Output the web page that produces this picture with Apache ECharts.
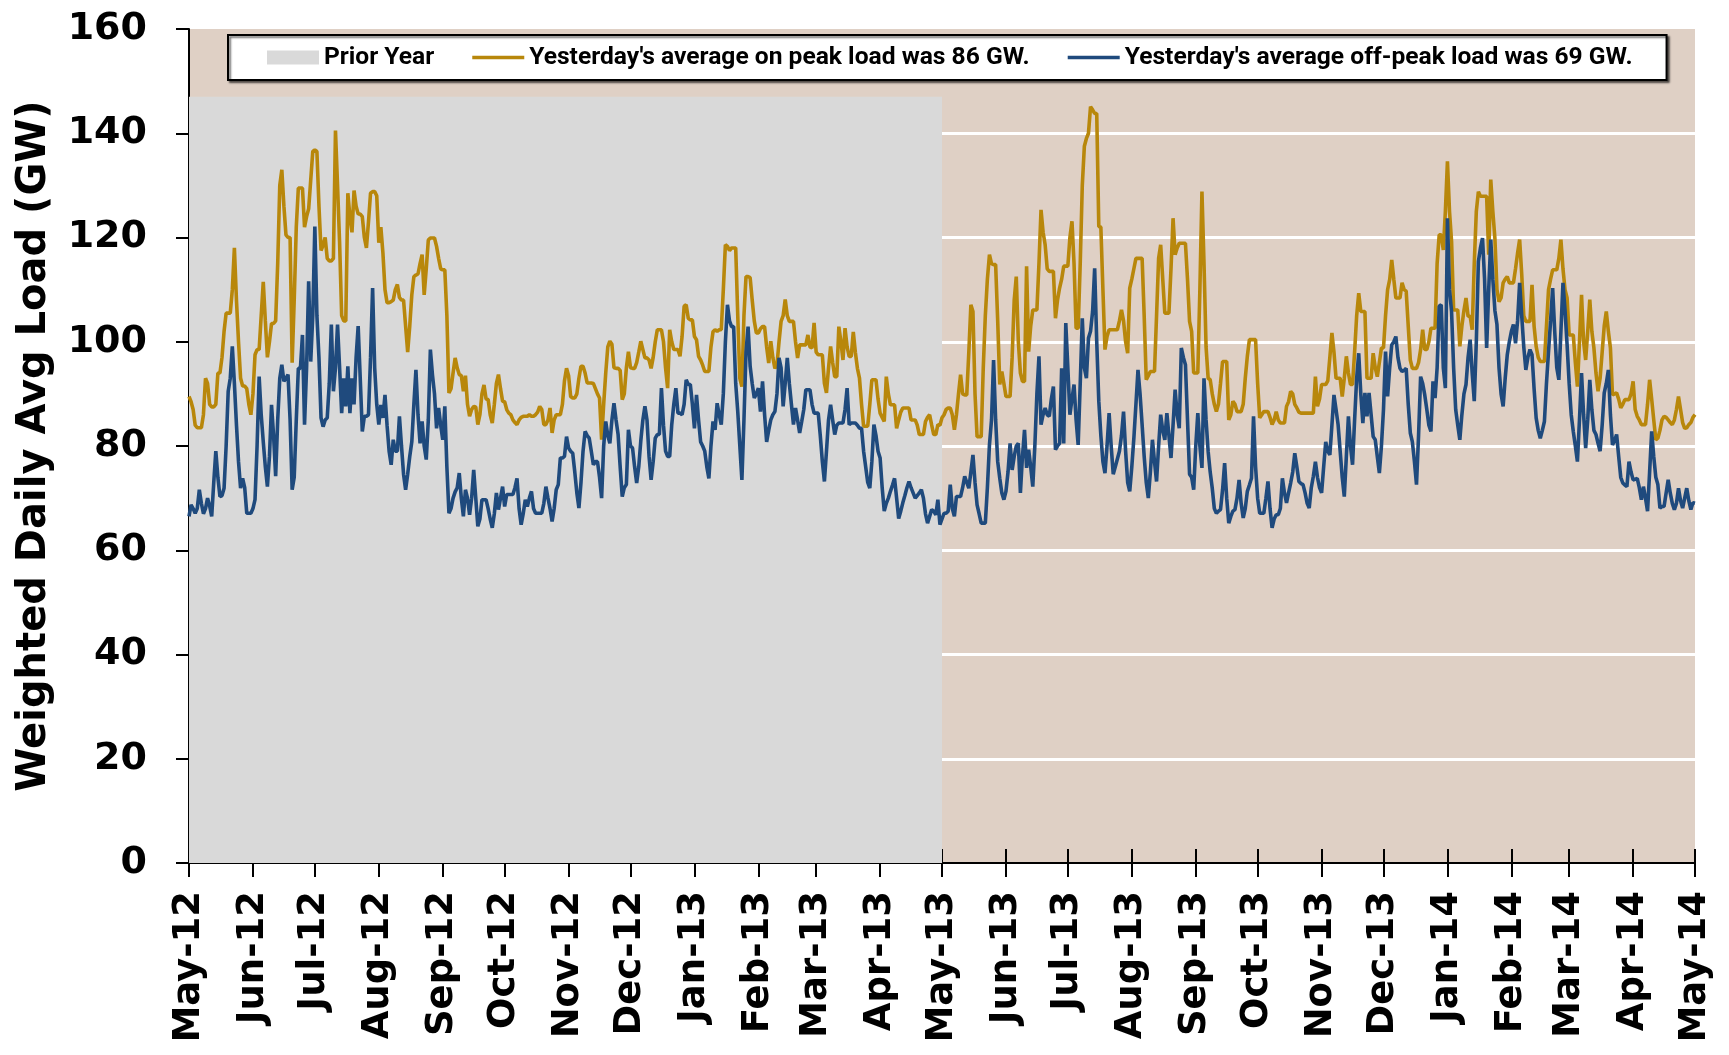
<!DOCTYPE html>
<html>
<head>
<meta charset="utf-8">
<script src="https://cdn.jsdelivr.net/npm/echarts@6/dist/echarts.min.js"></script>
<style>
  html, body { margin: 0; padding: 0; background: #ffffff; }
  #chart { width: 1729px; height: 1055px; }
</style>
</head>
<body>
<div id="chart"></div>
<script>
// Daily weighted average load, 1 May 2012 .. 1 May 2014 (one value per day)
const firstDay = [2012, 4, 1];

const onPeakName = "Yesterday's average on peak load was 86 GW.";
const offPeakName = "Yesterday's average off-peak load was 69 GW.";
const priorYearName = 'Prior Year';

// Shaded prior-year band: day range and height (GW)
const priorYearDays = [0, 365];
const priorYearLevel = 147;

// Month tick labels along the bottom
const tickLabels = ['May-12', 'Jun-12', 'Jul-12', 'Aug-12', 'Sep-12', 'Oct-12', 'Nov-12', 'Dec-12',
  'Jan-13', 'Feb-13', 'Mar-13', 'Apr-13', 'May-13', 'Jun-13', 'Jul-13', 'Aug-13', 'Sep-13',
  'Oct-13', 'Nov-13', 'Dec-13', 'Jan-14', 'Feb-14', 'Mar-14', 'Apr-14', 'May-14'];

// On-peak load (GW)
const onPeak = [
  89.5, 88.5, 87, 84, 83.5, 83.5, 83.5, 86, 93, 92,
  88, 87.5, 87.5, 88, 94, 94, 97, 102, 105.5, 105.5,
  105.5, 110, 118, 108, 100, 93, 91.5, 91.5, 91, 88,
  86, 90, 97.5, 98.5, 98.5, 105, 111.5, 104, 97, 100,
  103.5, 103.5, 104, 115, 130, 133, 126, 120.5, 120, 120,
  96, 108, 122, 129.5, 129.5, 129.5, 122, 124, 125.5, 131,
  136.5, 136.8, 136.5, 126, 117.5, 118.5, 120, 116, 115.5, 115.5,
  116, 140.5, 130, 119, 105, 104, 104, 128.5, 124, 121,
  129, 126, 124.5, 124.5, 124, 120, 118, 123, 128.5, 128.8,
  128.8, 128, 119, 122, 117, 110, 107.5, 107.5, 107.7, 108,
  110, 111, 108.5, 108, 108, 103, 98, 103, 109, 112.5,
  112.8, 113, 115, 116.7, 109, 114, 119.5, 119.9, 119.9, 119.9,
  118.3, 116, 114, 113.8, 113.8, 105, 90.2, 91, 94, 96.9,
  95, 93.7, 93.5, 90.5, 93.5, 88, 85.7, 87, 87.6, 87.5,
  84.1, 86, 90, 91.7, 89, 88.9, 86, 84.4, 88, 92,
  93.7, 91, 88.6, 88.5, 87, 86.3, 86, 85, 84.5, 84.1,
  85, 85.5, 85.7, 85.7, 85.7, 86, 85.7, 85.7, 86, 86.5,
  87.6, 87, 84.1, 84.1, 85, 87.3, 82.5, 85, 86, 86,
  86, 88, 92.5, 94.9, 93.5, 89.5, 89.2, 89.2, 90, 93,
  95.3, 95.3, 94, 92.1, 92.1, 92.1, 92, 91, 90, 89.2,
  81.2, 88, 94, 99, 100.1, 99.5, 95, 94.9, 94.9, 94.5,
  88.9, 90, 95, 98.1, 95, 94.9, 94.9, 96, 98, 100.1,
  98.5, 96.9, 96.9, 96.5, 94.9, 97, 100, 102.3, 102.3, 102.3,
  100, 95, 91.1, 102.3, 100, 98.5, 98.5, 98.5, 97.2, 101,
  106.8, 107.1, 104.5, 104.2, 104.2, 101, 100.4, 97.2, 96.5, 95.5,
  94.3, 94.3, 94.3, 99, 101.9, 102.3, 102, 102.3, 102.3, 110,
  118.6, 118.3, 117.5, 118, 118, 118, 105, 93, 91.4, 105,
  112.5, 112.5, 112.3, 108, 104, 101.7, 101.7, 102.5, 102.9, 102.9,
  99, 95.9, 100.1, 97, 94.9, 95.5, 100, 103.9, 105, 108.1,
  105, 103.9, 103.9, 103.9, 100, 96.9, 99.4, 99.4, 99.4, 99.4,
  101.3, 99, 98.8, 103.6, 98, 97.5, 97.5, 97.5, 92, 90.2,
  95, 99.1, 96, 93.3, 93.3, 102.9, 100, 96.5, 102.6, 99,
  97.2, 97.2, 101.9, 98, 94.9, 93, 88, 83.8, 83.8, 83.8,
  88, 92.7, 92.7, 92.7, 89, 86.3, 85.5, 84.7, 93.3, 90,
  87.9, 87.9, 87.9, 83.4, 85, 86.5, 87.3, 87.3, 87.3, 87.3,
  85, 85, 85, 84, 82.2, 82.2, 82.2, 84.7, 85.5, 86,
  84, 82.2, 82.2, 84.1, 84, 85.4, 86, 87, 87.3, 87.3,
  86, 83.1, 86, 90, 93.7, 90, 89.8, 89.8, 98, 107.1,
  105.8, 90, 81.8, 81.8, 81.8, 95, 105, 112, 116.7, 115,
  114.8, 114.8, 104, 91.8, 94.3, 92, 89.5, 89.5, 89.5, 97,
  108, 112.5, 100, 94, 92.4, 92.4, 114.5, 98.1, 103, 106.1,
  106.1, 106.1, 115, 125.3, 121, 118.6, 114, 113.5, 113.5, 113.5,
  104.5, 108, 110.3, 112, 114.5, 114.5, 114.5, 120, 123.1, 115,
  102.6, 102.6, 115, 130, 137.5, 139, 140, 145.1, 144.5, 143.8,
  143.8, 122.1, 122, 110, 98.5, 101, 102.3, 102.3, 102.3, 102.3,
  102.3, 104, 106.1, 104, 100, 97.8, 110.3, 112, 114, 116,
  116, 116, 116, 105, 92.7, 93.5, 94.3, 94.3, 94.3, 105,
  116, 118.6, 112, 105.5, 105.5, 105.5, 114, 123.7, 116.7, 118,
  118.9, 118.9, 118.9, 118.9, 112, 103.9, 102, 94, 94, 94,
  110, 128.8, 115, 99, 93, 92.7, 90, 88, 86.6, 88,
  92, 96.2, 96.2, 96.2, 85, 86, 88.6, 88, 86.6, 86.6,
  86.6, 88, 93, 97.2, 100.4, 100.4, 100.4, 100.4, 92, 85.4,
  86, 86.6, 86.6, 86.6, 85.5, 84.1, 85, 86.6, 85, 84.4,
  84.4, 84.4, 87.6, 88.5, 90.5, 90, 88, 87.3, 86.5, 86.3,
  86.3, 86.3, 86.3, 86.3, 86.3, 86.3, 93.3, 87.6, 89, 91.8,
  91.8, 91.8, 92.5, 97, 101.7, 98, 93, 93, 93, 89.5,
  93, 97.2, 94, 91.8, 91.8, 98, 105, 109.3, 105.8, 105.8,
  105.8, 93, 93, 93, 97.8, 95, 93.3, 96, 98.8, 98.8,
  105, 110, 111.9, 115.7, 112, 108.4, 108.4, 108.4, 111.3, 110,
  109.7, 103, 96.5, 94.9, 94.9, 94.9, 96, 98.5, 102.3, 98.5,
  98.5, 100, 102.6, 102.6, 102.6, 115, 120.5, 120.5, 117.6, 125,
  134.6, 125, 119.2, 106.1, 106.1, 106.1, 99.1, 103, 106, 108.4,
  104.9, 104.9, 102.3, 115, 125, 128.8, 127.9, 127.9, 127.9, 127.9,
  116.7, 131.1, 125, 119.9, 110, 107.7, 108.4, 111.3, 112, 112.5,
  111.3, 111.3, 111.3, 114, 117, 119.6, 113, 105, 103.9, 103.9,
  103.9, 110.9, 103, 99.1, 97, 96.2, 96.2, 96.2, 103, 110,
  112, 113.8, 113.8, 113.8, 116, 119.6, 114, 110, 108.4, 101.3,
  101.3, 101.3, 96, 91.4, 100, 109, 100, 96.5, 102, 108.1,
  102, 98.8, 94, 90.5, 93, 98, 103, 105.8, 102, 98.8,
  89.8, 90, 90.2, 89, 87.3, 88, 88.9, 88.9, 88.9, 90,
  92.4, 87, 85.7, 85, 84.1, 84.1, 84.1, 88, 92.7, 89,
  85, 81.2, 81.5, 83, 85, 85.7, 85.5, 85, 84.5, 84.1,
  85, 87, 89.5, 87, 84.5, 83.4, 83.5, 84.1, 84.5, 85.5,
  86
];

// Off-peak load (GW)
const offPeak = [
  66.5, 68.7, 68, 67.1, 68, 71.6, 69, 67, 68, 70,
  68.5, 66.5, 73, 79, 74, 70.3, 70.5, 71.9, 80, 90.5,
  93, 99.1, 92, 84.1, 77, 71.9, 73.8, 72, 67.1, 67.1,
  67.1, 68, 69.7, 80, 93.3, 86, 80.8, 76, 72.2, 78,
  87.9, 82, 74.2, 85, 93, 95.6, 92.4, 93, 93.7, 85,
  71.6, 74, 85, 94.9, 94.9, 101.3, 84.1, 95, 111.6, 96.2,
  105, 122.1, 105, 96.9, 85.4, 83.7, 85, 85.4, 92, 103.3,
  90.5, 95, 103.3, 95, 86.3, 93, 87.6, 95.3, 86.3, 93,
  88, 97, 103, 93, 82.8, 85.7, 85.7, 86, 97, 110.3,
  95, 88, 84.1, 87.9, 85.4, 89.8, 84, 79, 76.4, 81.2,
  79, 79, 85.7, 80, 74.6, 71.6, 74.6, 78, 80.8, 88,
  94.6, 86, 80.5, 84.7, 80, 77.4, 85, 98.5, 93.7, 90,
  83.4, 87.3, 84, 81.2, 87.6, 76, 67.1, 68, 70, 71.2,
  72, 74.8, 70, 66.5, 71.6, 70, 66.8, 70, 75.4, 70,
  64.6, 66, 69.7, 69.7, 69.7, 68, 66, 64.3, 67, 71,
  67.8, 70, 72.2, 68.4, 70.7, 70.7, 70.7, 70.7, 72, 73.8,
  68, 64.9, 67, 69.7, 68.4, 70, 71.3, 68, 67.1, 67.1,
  67.1, 67.1, 69, 72.2, 70, 68, 65.5, 68, 71.6, 72.6,
  77.7, 77.7, 78, 81.8, 79.6, 79, 78.6, 75, 71, 68.1,
  73, 79, 82.8, 82, 81.5, 79, 76.4, 77, 77, 74,
  70, 80, 84.7, 82, 80.5, 85, 88.2, 85, 82.2, 76,
  70.3, 72, 72.6, 83.1, 80, 79.6, 76, 72.9, 76, 81,
  85, 87.6, 85, 78, 73.5, 77, 81.5, 82.2, 82.2, 91.1,
  84, 79, 78, 78, 84.1, 88, 91.1, 86.3, 86.3, 86,
  88, 92.7, 91.8, 91.8, 88, 83.4, 89.8, 85, 80.8, 80,
  79, 76, 73.8, 80, 84.7, 83.1, 88.2, 86, 84.1, 90,
  100, 107.1, 104, 102.9, 102.9, 92, 86.6, 80, 73.5, 85,
  98, 102.9, 95.3, 92, 89.2, 90, 91.1, 86.6, 92.4, 86,
  80.8, 83, 85, 86, 86.6, 90, 96.9, 95, 87.6, 92,
  96.9, 92, 88, 84.1, 87.3, 85, 82.5, 84.7, 87, 90.8,
  90.8, 90.8, 88, 86.3, 86.3, 86.3, 82, 77, 73.2, 79,
  85, 87.9, 85, 82.2, 84, 84.4, 84.4, 84.4, 87, 91.1,
  84.1, 84.4, 84.4, 84.4, 84, 83.4, 83.4, 79, 76, 73,
  71.9, 77, 84.1, 82, 79, 77.7, 72, 67.5, 69, 70,
  71.3, 72.5, 73.8, 70, 66.1, 67.5, 69.1, 70.5, 72, 73.2,
  72, 71, 70, 70.5, 71, 71.6, 70, 67, 65.2, 66.5,
  67.8, 67.5, 66.8, 69.7, 64.9, 66, 67.1, 67.1, 67.5, 72.6,
  68, 66.5, 70.3, 70.3, 70.3, 72, 74.2, 73, 71.9, 75,
  78.3, 73, 68.7, 67, 65.2, 65.2, 65.2, 72, 80.2, 85,
  96.5, 85, 77, 73.8, 71, 69.7, 71.3, 75, 80.5, 75.4,
  78, 80, 80.5, 71, 78, 83.1, 75.8, 79.3, 76, 72.2,
  80, 90, 97.2, 84.1, 86, 87.3, 86, 85.7, 89, 91.4,
  79.3, 80, 80.5, 94.9, 80.5, 103.6, 95, 86, 89, 91.8,
  85, 80.2, 92, 104.5, 95, 93, 100.7, 102, 105.8, 114.1,
  100, 88.6, 82, 77, 74.8, 80, 86.3, 80, 74.6, 76,
  77.5, 79, 82, 86.6, 79, 73, 71.3, 76, 81.5, 88,
  94.6, 90, 84.1, 78, 73, 70, 75, 81.2, 77, 73.2,
  80, 86, 83, 81.2, 86.3, 82, 77.7, 84, 90.8, 86,
  83.4, 98.8, 97, 95.6, 85, 74.6, 74, 71.6, 80, 86.3,
  80, 75.8, 93, 85, 79, 75, 71.9, 68, 67.1, 67.5,
  67.8, 71.6, 76.7, 70, 65.2, 66.5, 67.5, 67.8, 70, 73.5,
  69, 66.2, 68, 71.3, 72.5, 73.8, 85.7, 76, 70, 67.1,
  67.1, 67.1, 70, 73.2, 68, 64.3, 66, 66.8, 66.8, 68,
  73.8, 71, 69.1, 71, 72.9, 75, 78.6, 76, 73.2, 72.8,
  72.6, 71, 69, 68.1, 72, 74.2, 77, 74, 72, 71,
  76, 80.8, 79, 78.3, 84, 89.8, 87, 84.1, 79, 74,
  70.3, 78, 85.7, 80, 76.4, 85, 93, 97.8, 90, 84.4,
  90.2, 85.7, 90.2, 86, 81.8, 81.2, 78, 74.8, 80, 87,
  98.1, 89.5, 95, 99.4, 100, 101, 97, 94.9, 94.3, 94.5,
  94.9, 88, 82.5, 80.8, 77, 72.6, 82, 93.3, 92, 89.8,
  87, 84, 82.8, 92.4, 89.2, 95, 106.8, 107.1, 95, 91.1,
  123.7, 110, 105.8, 95, 87, 84, 81.2, 86, 90, 91.8,
  97, 100.4, 94, 88.6, 100, 115.4, 118, 119.9, 112, 98.8,
  110, 119.6, 112, 106, 103.3, 95, 90, 87.6, 93, 97.5,
  100, 102, 103.3, 99.7, 104, 111.3, 105, 99, 94.6, 97,
  98.5, 97.5, 91, 85.4, 83, 81.5, 83, 84.7, 92, 98.1,
  104, 110.3, 102, 95, 92.7, 102, 111.3, 106, 99.4, 92,
  86, 82.8, 80, 77, 85, 94, 86, 79.6, 85, 92.7,
  87, 83, 82.2, 80.5, 79, 84, 90.2, 92, 94.6, 86,
  80.2, 81, 82.2, 78, 74, 72.9, 72.5, 72.2, 77, 75,
  73.5, 73.6, 73.8, 72, 69.7, 72.2, 70, 67.5, 75, 82.8,
  78, 74, 72.6, 68.1, 68.4, 68.4, 71, 73.5, 71, 69,
  67.8, 69, 71.9, 69.5, 68.1, 70, 71.9, 69.5, 67.8, 69.1,
  69
];

// --- helpers -------------------------------------------------------------
// The x axis counts days from firstDay; month ticks fall on each month's first day.
const DAY_MS = 86400000;
const t0 = Date.UTC(firstDay[0], firstDay[1], firstDay[2]);
const tickDays = tickLabels.map((_, i) =>
  Math.round((Date.UTC(firstDay[0], firstDay[1] + i, 1) - t0) / DAY_MS));
const toPairs = arr => arr.map((v, i) => [i, v]);

const lastDay = onPeak.length - 1;

const GOLD = '#B8870B';
const BLUE = '#1F4A7D';
const GREY = '#D9D9D9';
const PLOT_BG = '#DFD0C5';

const boldFont = 'DejaVu Sans';
// thin bar used as the legend swatch for the two load lines
const lineIcon = 'path://M0,0H52V3.4H0Z';

const chart = echarts.init(document.getElementById('chart'), null, { renderer: 'canvas' });

chart.setOption({
  animation: false,
  backgroundColor: '#ffffff',
  grid: {
    left: 189, right: 34, top: 29, bottom: 192,
    show: true, backgroundColor: PLOT_BG, borderWidth: 0
  },
  legend: {
    left: 228, top: 35, width: 1480,
    orient: 'horizontal',
    itemWidth: 52, itemHeight: 14, itemGap: 38,
    symbolKeepAspect: true,
    padding: [9, 34, 9, 39],
    backgroundColor: '#ffffff',
    borderColor: '#000000', borderWidth: 2,
    shadowColor: 'rgba(0,0,0,0.55)', shadowBlur: 2, shadowOffsetX: 2, shadowOffsetY: 2,
    selectedMode: false,
    textStyle: {
      fontFamily: "'Liberation Sans Narrow', 'Roboto', sans-serif",
      fontWeight: 'bold', fontSize: 24.6, lineHeight: 27, color: '#000000'
    },
    data: [
      { name: priorYearName, icon: 'rect', itemStyle: { color: GREY, borderWidth: 0 } },
      { name: onPeakName, icon: lineIcon, itemStyle: { color: GOLD, borderWidth: 0 } },
      { name: offPeakName, icon: lineIcon, itemStyle: { color: BLUE, borderWidth: 0 } }
    ]
  },
  xAxis: [
    {
      type: 'value', min: 0, max: lastDay, position: 'bottom',
      axisLine: { show: true, onZero: false, lineStyle: { color: '#000', width: 2 } },
      axisTick: { show: true, inside: false, length: 14, customValues: tickDays,
                  lineStyle: { color: '#000', width: 2 } },
      axisLabel: {
        customValues: tickDays,
        formatter: v => tickLabels[tickDays.indexOf(v)] || '',
        rotate: 90, margin: 28, color: '#000',
        fontFamily: boldFont, fontWeight: 'bold', fontSize: 37
      },
      splitLine: { show: false }
    },
    {
      type: 'value', min: 0, max: lastDay, position: 'bottom',
      axisLine: { show: false, onZero: false },
      axisTick: { show: true, inside: true, length: 14, customValues: tickDays,
                  lineStyle: { color: '#000', width: 2 } },
      axisLabel: { show: false },
      splitLine: { show: false }
    }
  ],
  yAxis: {
    type: 'value', min: 0, max: 160, interval: 20,
    name: 'Weighted Daily Avg Load (GW)',
    nameLocation: 'middle', nameGap: 134,
    nameTextStyle: { fontFamily: boldFont, fontWeight: 'bold', fontSize: 40, color: '#000' },
    axisLine: { show: true, lineStyle: { color: '#000', width: 2 } },
    axisTick: { show: true, inside: false, length: 13, lineStyle: { color: '#000', width: 2 } },
    axisLabel: { margin: 42, color: '#000', fontFamily: boldFont, fontWeight: 'bold', fontSize: 38 },
    splitLine: { show: true, showMaxLine: false, lineStyle: { color: '#ffffff', width: 3 } }
  },
  series: [
    {
      name: priorYearName, type: 'line', xAxisIndex: 0,
      data: [[priorYearDays[0], priorYearLevel], [priorYearDays[1], priorYearLevel]],
      symbol: 'none', silent: true, z: 1,
      itemStyle: { color: GREY },
      lineStyle: { width: 0, color: GREY },
      areaStyle: { color: GREY, opacity: 1 }
    },
    {
      name: onPeakName, type: 'line', xAxisIndex: 0,
      data: toPairs(onPeak),
      symbol: 'none', z: 3,
      itemStyle: { color: GOLD },
      lineStyle: { color: GOLD, width: 3.6 }
    },
    {
      name: offPeakName, type: 'line', xAxisIndex: 0,
      data: toPairs(offPeak),
      symbol: 'none', z: 4,
      itemStyle: { color: BLUE },
      lineStyle: { color: BLUE, width: 3.6 }
    }
  ]
});
</script>
</body>
</html>
